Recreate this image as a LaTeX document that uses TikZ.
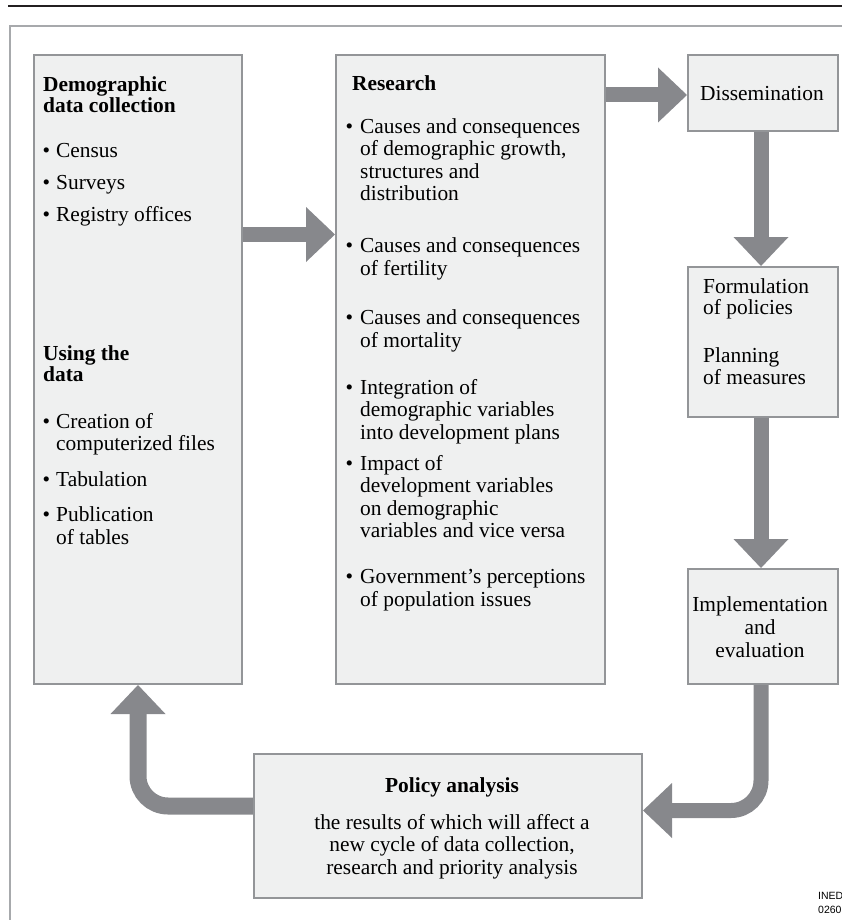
\documentclass[tikz,border=0pt]{standalone}
\usepackage{fontspec}
\setmainfont{Liberation Serif}
\newfontfamily\inedfont{Liberation Sans}
\usetikzlibrary{calc,backgrounds}
\definecolor{boxfill}{HTML}{EFF0F0}
\definecolor{boxline}{HTML}{939598}
\definecolor{arrowgray}{HTML}{87888C}
\definecolor{framegray}{HTML}{A7A9AC}
\definecolor{rulecol}{HTML}{231F20}
\tikzset{
  box/.style={draw=boxline, line width=2pt, fill=boxfill, rectangle, anchor=north west, inner sep=0pt},
  txt/.style={anchor=base west, align=left, inner sep=0pt, font=\fontsize{21.4}{22.5}\selectfont},
  ctxt/.style={anchor=base, align=center, inner sep=0pt, font=\fontsize{21.4}{22.5}\selectfont},
  shaft/.style={draw=arrowgray, line width=15pt},
}
\newcommand\arrowhead[2]{%
  \coordinate (ahb) at ($(#2)!29pt!(#1)$);
  \fill[arrowgray] ($(ahb)!27.5pt!90:(#2)$) -- (#2) -- ($(ahb)!27.5pt!-90:(#2)$) -- cycle;}
\newcommand\fatarrow[2]{\arrowhead{#1}{#2}\draw[shaft] (#1) -- ($(ahb)!1pt!(#2)$);}
\newcommand\bulL{\llap{•\hspace{6pt}}}
\newcommand\bulR{\llap{•\hspace{7pt}}}
\begin{document}
\begin{tikzpicture}[x=1pt,y=-1pt]
\useasboundingbox (0,0) rectangle (842,920);
% boxes
\node[box, minimum width=208pt, minimum height=629pt] (L) at (33,54) {};
\node[box, minimum width=269pt, minimum height=629pt] (R) at (335,54) {};
\node[box, minimum width=150pt, minimum height=76pt] (D) at (687,54) {};
\node[box, minimum width=150pt, minimum height=150pt] (F) at (687,266) {};
\node[box, minimum width=150pt, minimum height=115pt] (I) at (687,568) {};
\node[box, minimum width=388pt, minimum height=144pt] (P) at (253,753) {};
% texts (anchored at the baseline of their last line): left box
\node[txt, font=\fontsize{21.4}{21}\selectfont\bfseries] (Lh1) at (43,113) {Demographic\\data collection};
\node[txt] (Li1) at (56,221) {\bulL Census\\[9pt]\bulL Surveys\\[9pt]\bulL Registry offices};
\node[txt, font=\fontsize{21.4}{21}\selectfont\bfseries] (Lh2) at (43,381) {Using the\\data};
\node[txt] (Li2) at (56,544) {\bulL Creation of\\computerized files\\[13pt]\bulL Tabulation\\[13pt]\bulL Publication\\of tables};
% research box
\node[txt, font=\fontsize{21.4}{22.5}\selectfont\bfseries] (Rh) at (352,91) {Research};
\node[txt] (R1) at (360,200.5) {\bulR Causes and consequences\\of demographic growth,\\structures and\\distribution};
\node[txt] (R2) at (360,275) {\bulR Causes and consequences\\of fertility};
\node[txt] (R3) at (360,347) {\bulR Causes and consequences\\of mortality};
\node[txt] (R4) at (360,439) {\bulR Integration of\\demographic variables\\into development plans};
\node[txt] (R5) at (360,537.5) {\bulR Impact of\\development variables\\on demographic\\variables and vice versa};
\node[txt] (R6) at (360,606) {\bulR Government’s perceptions\\of population issues};
% right column
\node[ctxt] (Dt) at (762,101) {Dissemination};
\node[txt, font=\fontsize{21.4}{21.5}\selectfont] (Ft) at (703,384) {Formulation\\of policies\\[26.5pt]Planning\\of measures};
\node[ctxt, font=\fontsize{21.4}{23}\selectfont] (It) at (760,657) {Implementation\\and\\evaluation};
% policy box
\node[ctxt, font=\fontsize{21.4}{22.5}\selectfont\bfseries] (Ph) at (452,792) {Policy analysis};
\node[ctxt] (Pt) at (452,874) {the results of which will affect a\\new cycle of data collection,\\research and priority analysis};
% INED
\node[anchor=base west, align=left, inner sep=0pt, font=\inedfont\fontsize{10.5}{14}\selectfont] (ined) at (818,913) {INED\\02605};
% frame, rule and arrows behind boxes
\begin{scope}[on background layer]
\draw[rulecol, line width=2.6pt] (8,6.2) -- (850,6.2);
\draw[framegray, line width=2pt] (9.5,930) -- (9.5,26) -- (850,26);
\coordinate (y1) at (0,234.5);
\coordinate (y2) at (0,95);
\coordinate (x3) at (761,0);
\coordinate (y5) at (0,810.5);
\coordinate (x6) at (138,0);
\coordinate (y6) at (0,806);
\fatarrow{L.east |- y1}{R.west |- y1}
\fatarrow{R.east |- y2}{D.west |- y2}
\fatarrow{x3 |- D.south}{x3 |- F.north}
\fatarrow{x3 |- F.south}{x3 |- I.north}
% implementation -> policy
\coordinate (c5) at (x3 |- I.south);
\coordinate (d5) at (x3 |- y5);
\coordinate (t5) at (P.east |- y5);
\arrowhead{d5}{t5}
\draw[shaft, rounded corners=30pt] (c5) -- (d5) -- ($(ahb)!1pt!(t5)$);
% policy -> left box
\coordinate (c6) at (P.west |- y6);
\coordinate (d6) at (x6 |- y6);
\coordinate (t6) at (x6 |- L.south);
\arrowhead{d6}{t6}
\draw[shaft, line width=17pt, rounded corners=30pt] (c6) -- (d6) -- ($(ahb)!1pt!(t6)$);
\end{scope}
\end{tikzpicture}
\end{document}
